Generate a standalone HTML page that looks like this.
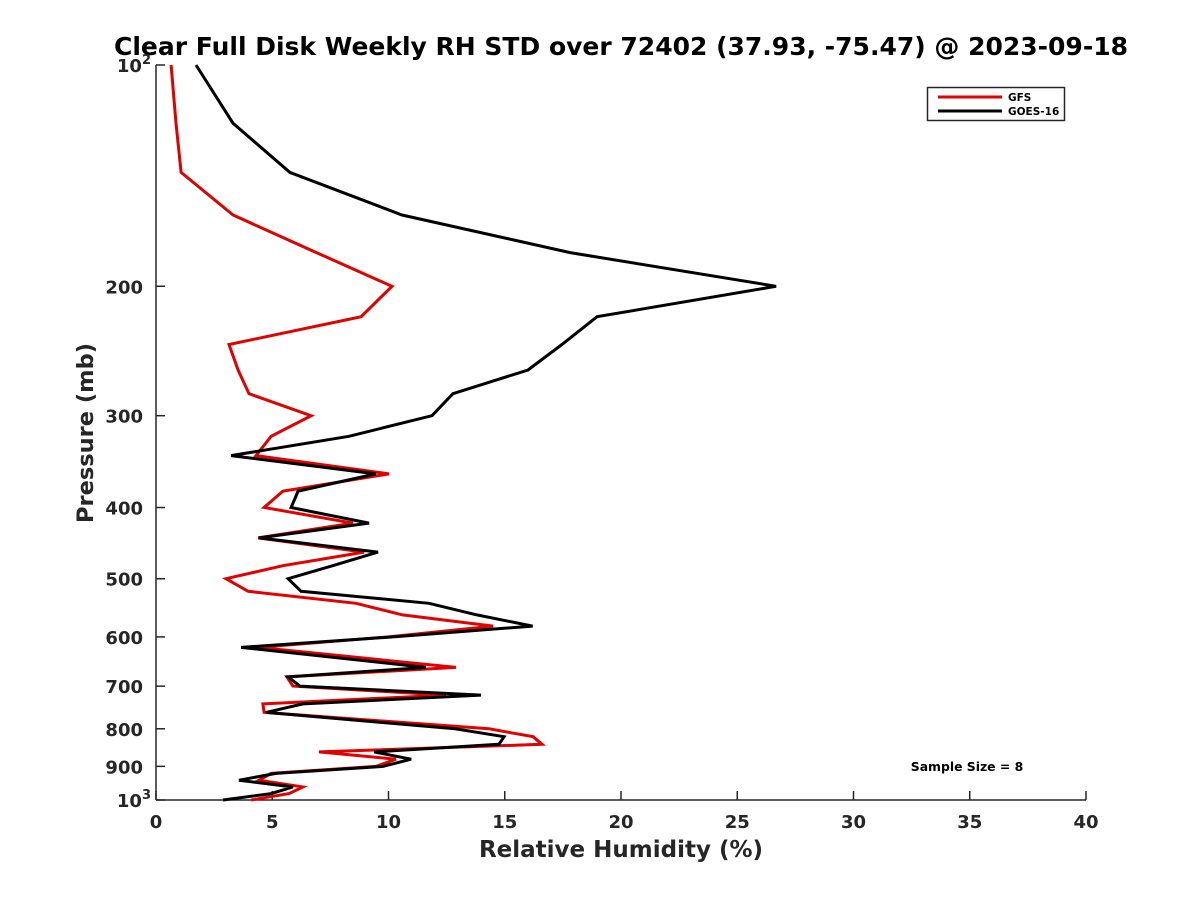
<!DOCTYPE html>
<html><head><meta charset="utf-8"><style>
body{margin:0;background:#fff}
svg{display:block}
text{font-family:"DejaVu Sans","Liberation Sans",sans-serif;font-weight:bold}
</style></head><body>
<svg id="chart" width="1200" height="900" viewBox="0 0 1200 900">
<rect width="1200" height="900" fill="#fff"/>
<text x="621" y="55" font-size="25" text-anchor="middle" fill="#000">Clear Full Disk Weekly RH STD over 72402 (37.93, -75.47) @ 2023-09-18</text>
<g id="axes"></g>
<g id="series"></g>
<text x="621" y="857" font-size="23" text-anchor="middle" fill="#262626">Relative Humidity (%)</text>
<text transform="translate(93,433) rotate(-90)" font-size="22.5" text-anchor="middle" fill="#262626">Pressure (mb)</text>
<g>
<rect x="927.5" y="87.5" width="137" height="33" fill="#fff" stroke="#262626" stroke-width="1.5"/>
<line x1="938" y1="97" x2="1002" y2="97" stroke="#e00000" stroke-width="3"/>
<text x="1008" y="101" font-size="10.5" fill="#000">GFS</text>
<line x1="938" y1="111" x2="1002" y2="111" stroke="#000" stroke-width="3"/>
<text x="1008" y="115" font-size="10.5" fill="#000">GOES-16</text>
</g>
<text x="967" y="771" font-size="12.4" text-anchor="middle" fill="#000">Sample Size = 8</text>
</svg>
<script>
const pressures=[100,120,140,160,180,200,220,240,260,280,300,320,340,360,380,400,420,440,460,480,500,520,540,560,580,600,620,660,680,700,720,740,760,800,820,840,860,880,900,920,940,960,980,1000];
const gfsValues=[0.65,0.86,1.08,3.31,6.9,10.15,8.82,3.14,3.53,4.0,6.67,4.95,4.3,10.02,5.46,4.65,8.47,4.39,8.95,5.46,3.01,3.96,8.6,10.6,14.5,10.0,4.39,12.9,5.63,5.89,12.47,4.6,4.65,14.32,16.22,16.6,7.01,10.32,9.46,4.95,4.43,6.32,5.72,4.09];
const goesValues=[1.72,3.31,5.76,10.58,17.81,26.67,18.97,17.46,16.0,12.77,11.87,8.3,3.23,9.46,6.11,5.81,9.16,4.43,9.55,7.6,5.68,6.24,11.74,13.8,16.2,10.2,3.66,11.61,5.68,6.19,13.98,6.32,4.73,12.86,14.97,14.75,9.38,10.97,9.76,5.16,3.57,5.89,4.95,2.88];
const xTicks=[0,5,10,15,20,25,30,35,40];
const yTicks=[100,200,300,400,500,600,700,800,900,1000];
const yTickLabels=["10²","200","300","400","500","600","700","800","900","10³"];
const L=156,R=1086,T=65,B=800,XMIN=0,XMAX=40,PMIN=100,PMAX=1000;
function xs(v){return L+(v-XMIN)/(XMAX-XMIN)*(R-L);}
function ys(p){return T+(Math.log10(p)-Math.log10(PMIN))/(Math.log10(PMAX)-Math.log10(PMIN))*(B-T);}
const NS='http://www.w3.org/2000/svg';
function mk(tag,attrs,parent){const e=document.createElementNS(NS,tag);for(const k in attrs)e.setAttribute(k,attrs[k]);parent.appendChild(e);return e;}
const axes=document.getElementById('axes');
const series=document.getElementById('series');
let a=mk('line',{x1:L,y1:B,x2:R,y2:B,stroke:'#262626','stroke-width':1.5},axes);


a=mk('line',{x1:L,y1:T,x2:L,y2:B,stroke:'#262626','stroke-width':1.5},axes);


xTicks.forEach(v=>{
  const x=xs(v);
  const t=mk('line',{x1:x,y1:B,x2:x,y2:B-9,stroke:'#262626','stroke-width':1.5},axes);
  
  
  const tx=mk('text',{x:x,y:B+28,'font-size':18,'text-anchor':'middle',fill:'#262626'},axes);
  tx.textContent=v;
  
  
});
yTicks.forEach((p,i)=>{
  const y=ys(p);
  const t=mk('line',{x1:L,y1:y,x2:L+9,y2:y,stroke:'#262626','stroke-width':1.5},axes);
  
  
  const lab=yTickLabels[i];
  const tx=mk('text',{x:L-13,y:y+7,'font-size':18,'text-anchor':'end',fill:'#262626'},axes);
  if(lab.length===3&&(lab[2]==='²'||lab[2]==='³')){
    tx.textContent='10';
    const s=mk('tspan',{dy:-8,'font-size':13},tx);
    s.textContent=lab[2]==='²'?'2':'3';
    tx.setAttribute('x',L-5);
    tx.setAttribute('text-anchor','end');
  } else tx.textContent=lab;
  
  
});
function drawSeries(vals,color,name){
  const pts=vals.map((v,i)=>xs(v).toFixed(1)+','+ys(pressures[i]).toFixed(1)).join(' ');
  const pl=mk('polyline',{points:pts,fill:'none',stroke:color,'stroke-width':3,'stroke-linejoin':'miter'},series);
  
  
}
drawSeries(gfsValues,'#e00000','gfs-line');
drawSeries(goesValues,'#000000','goes16-line');
</script>
</body></html>
